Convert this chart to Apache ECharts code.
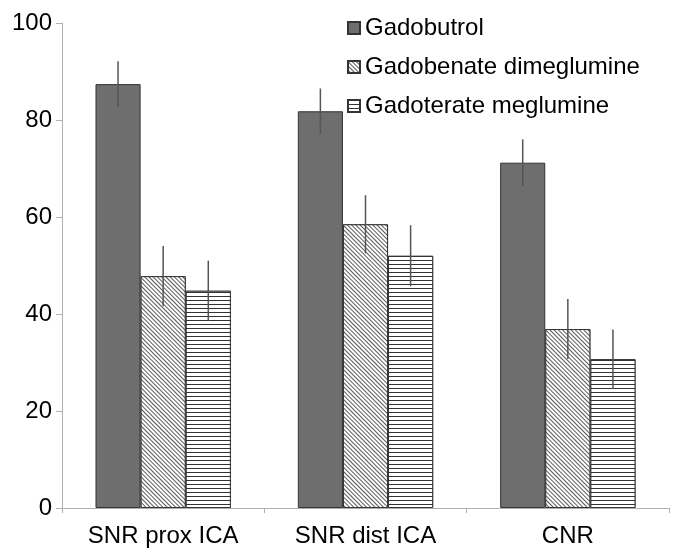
<!DOCTYPE html>
<html>
<head>
<meta charset="utf-8">
<script src="https://cdn.jsdelivr.net/npm/echarts@6/dist/echarts.min.js"></script>
<style>html,body{margin:0;padding:0;background:#fff;}#c{width:674px;height:552px;}</style>
</head>
<body>
<div id="c"></div>
<script>
var categories = ['SNR prox ICA', 'SNR dist ICA', 'CNR'];
var seriesNames = ['Gadobutrol', 'Gadobenate dimeglumine', 'Gadoterate meglumine'];
var gadobutrol = [87.4, 81.8, 71.2];
var gadobenate = [47.8, 58.5, 36.9];
var gadoterate = [44.8, 52.0, 30.7];
var gadobutrolErr = [4.7, 4.7, 4.8];
var gadobenateErr = [6.2, 6.0, 6.2];
var gadoterateErr = [6.2, 6.3, 6.1];
var yTicks = [0, 20, 40, 60, 80, 100];

var means = [gadobutrol, gadobenate, gadoterate];
var errs = [gadobutrolErr, gadobenateErr, gadoterateErr];
var BAR_FRAC = 0.223;
var FONT = '"Liberation Sans", Arial, sans-serif';

var styles = [
  { color: '#6e6e6e', borderColor: '#333', borderWidth: 1 },
  { color: '#ffffff', borderColor: '#333', borderWidth: 1,
    decal: { symbol: 'rect', symbolSize: 1, dashArrayX: [1, 0], dashArrayY: [1, 2], rotation: Math.PI / 4, color: '#5a5a5a', backgroundColor: '#fff' } },
  { color: '#ffffff', borderColor: '#333', borderWidth: 1,
    decal: { symbol: 'rect', symbolSize: 1, dashArrayX: [1, 0], dashArrayY: [1, 3], rotation: 0, color: '#333', backgroundColor: '#fff' } }
];

var series = [];
for (var k = 0; k < 3; k++) {
  series.push({
    name: seriesNames[k], type: 'bar', data: means[k],
    barWidth: (BAR_FRAC * 100) + '%', barGap: '0%', barCategoryGap: '33%',
    itemStyle: styles[k], emphasis: { disabled: true }
  });
}
for (var k = 0; k < 3; k++) {
  (function (k) {
    var d = categories.map(function (c, i) { return [i, means[k][i] - errs[k][i], means[k][i] + errs[k][i]]; });
    series.push({
      type: 'custom', data: d, z: 10, silent: true,
      renderItem: function (params, api) {
        var lo = api.coord([api.value(0), api.value(1)]);
        var hi = api.coord([api.value(0), api.value(2)]);
        var band = api.size([1, 0])[0];
        var off = (k - 1) * BAR_FRAC * band;
        return { type: 'line', shape: { x1: lo[0] + off, y1: lo[1], x2: hi[0] + off, y2: hi[1] },
          style: { stroke: '#555', lineWidth: 1.5 } };
      }
    });
  })(k);
}

var chart = echarts.init(document.getElementById('c'), null, { renderer: 'canvas' });
chart.setOption({
  animation: false,
  backgroundColor: '#fff',
  aria: { enabled: false },
  legend: {
    data: seriesNames, orient: 'vertical', left: 347, top: 16, icon: 'rect',
    itemWidth: 12, itemHeight: 12, itemGap: 15, padding: 0,
    textStyle: { fontFamily: FONT, fontSize: 24, color: '#000' }
  },
  grid: { left: 62, right: 5, top: 23, bottom: 44, containLabel: false },
  xAxis: {
    type: 'category', data: categories,
    axisLine: { lineStyle: { color: '#b0b0b0', width: 1 } },
    axisTick: { show: true, length: 5, lineStyle: { color: '#b0b0b0' } },
    axisLabel: { fontFamily: FONT, fontSize: 24, color: '#000', margin: 16 }
  },
  yAxis: {
    type: 'value', min: yTicks[0], max: yTicks[yTicks.length - 1], interval: 20,
    splitLine: { show: false },
    axisLine: { show: true, lineStyle: { color: '#b0b0b0', width: 1 } },
    axisTick: { show: true, length: 6, lineStyle: { color: '#b0b0b0' } },
    axisLabel: { fontFamily: FONT, fontSize: 24, color: '#000', margin: 10 }
  },
  series: series
});
</script>
</body>
</html>
